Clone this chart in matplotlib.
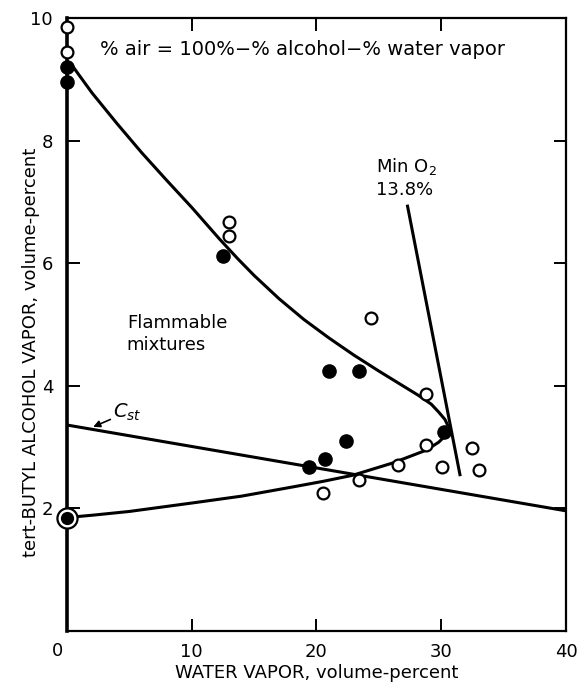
import matplotlib
matplotlib.use('Agg')
import matplotlib.pyplot as plt

plt.rcParams['font.family'] = ['DejaVu Sans']
plt.rcParams['mathtext.fontset'] = 'dejavusans'

# measured points (water vapor %, alcohol %)
filled_x = [0, 0, 12.5, 21.0, 23.4, 22.4, 20.7, 19.4, 30.2]
filled_y = [9.2, 8.95, 6.12, 4.24, 4.24, 3.1, 2.8, 2.68, 3.25]
open_x = [0, 0, 13.0, 13.0, 24.4, 23.4, 20.5, 26.5, 28.8, 28.8, 30.1, 32.5, 33.0]
open_y = [9.85, 9.45, 6.67, 6.45, 5.1, 2.46, 2.25, 2.7, 3.03, 3.87, 2.68, 2.98, 2.63]
circled_x = [0]
circled_y = [1.85]

# flammability limit curves
upper_x = [0.5, 2, 4, 6, 8, 10, 12.2, 13.7, 15, 17, 19, 21, 23, 25, 27,
           28.2, 29.2, 29.8, 30.3, 30.6]
upper_y = [9.2, 8.78, 8.28, 7.8, 7.35, 6.91, 6.4, 6.07, 5.8, 5.42, 5.08, 4.78,
           4.5, 4.24, 3.99, 3.84, 3.7, 3.57, 3.45, 3.32]
lower_x = [0.5, 2.1, 5, 10.1, 14, 18.1, 20.5, 22.9, 26.1, 28.8, 29.8, 30.3, 30.6]
lower_y = [1.86, 1.89, 1.95, 2.09, 2.2, 2.35, 2.44, 2.54, 2.74, 2.95, 3.08, 3.18, 3.32]

# stoichiometric line and min O2 line
cst_x = [0, 40]
cst_y = [3.36, 1.96]
mino2_x = [27.3, 31.5]
mino2_y = [6.93, 2.55]

fig = plt.figure(figsize=(5.85, 6.89), dpi=100)
ax = fig.add_axes([0.1145, 0.0842, 0.853, 0.8897])

lw = 2.2
ax.plot(upper_x, upper_y, color='black', lw=lw)
ax.plot(lower_x, lower_y, color='black', lw=lw)
ax.plot(cst_x, cst_y, color='black', lw=lw)
ax.plot(mino2_x, mino2_y, color='black', lw=lw)

ax.plot(open_x, open_y, 'o', ms=8.5, mfc='white', mec='black', mew=1.6, clip_on=False, zorder=5)
ax.plot(filled_x, filled_y, 'o', ms=9.5, mfc='black', mec='black', clip_on=False, zorder=5)
ax.plot(circled_x, circled_y, 'o', ms=14.5, mfc='white', mec='black', mew=1.6, clip_on=False, zorder=5)
ax.plot(circled_x, circled_y, 'o', ms=8.5, mfc='black', mec='black', clip_on=False, zorder=6)

ax.set_xlim(0, 40)
ax.set_ylim(0, 10)
ax.set_xticks([10, 20, 30, 40])
ax.set_yticks([2, 4, 6, 8, 10])
ax.tick_params(direction='in', top=True, right=True, length=9, width=1.4,
               labelsize=13)
ax.tick_params(axis='x', pad=9)
ax.tick_params(axis='y', pad=10)
for s in ax.spines.values():
    s.set_linewidth(1.6)
ax.spines['left'].set_linewidth(2.6)
ax.annotate('0', xy=(0, 0), xycoords='data', xytext=(-3, -8),
            textcoords='offset points', ha='right', va='top', fontsize=13)

ax.set_xlabel('WATER VAPOR, volume-percent', fontsize=13, labelpad=2)
ax.set_ylabel('tert-BUTYL ALCOHOL VAPOR, volume-percent', fontsize=13)
ax.yaxis.set_label_coords(-0.055, 0.455)

ax.text(2.64, 9.48, '% air = 100%\u2212% alcohol\u2212% water vapor', fontsize=14,
        va='center', ha='left')
ax.text(4.8, 4.84, 'Flammable\nmixtures', fontsize=13, va='center', ha='left',
        linespacing=1.3)
ax.text(24.8, 7.4, 'Min O$_2$\n13.8%', fontsize=13, va='center', ha='left',
        linespacing=1.25)
ax.annotate('$C_{st}$', xy=(2.1, 3.33), xytext=(3.7, 3.57), fontsize=14,
            va='center', ha='left',
            arrowprops=dict(arrowstyle='-|>', color='black', lw=1.2,
                            mutation_scale=10, shrinkA=0, shrinkB=0))

fig.savefig('out.png', dpi=100)
